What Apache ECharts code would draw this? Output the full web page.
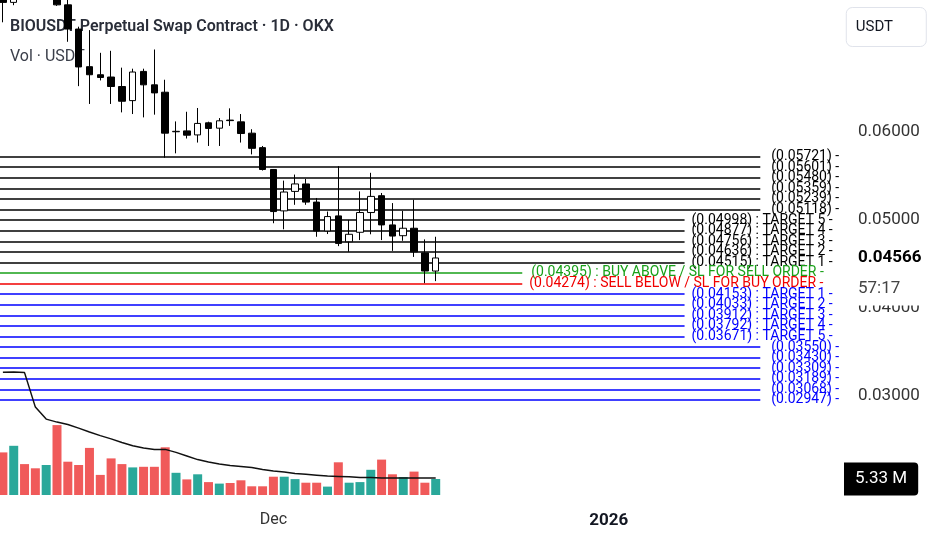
<!DOCTYPE html>
<html><head><meta charset="utf-8">
<script src="https://cdn.jsdelivr.net/npm/echarts@6.0.0/dist/echarts.min.js"></script>
<style>html,body{margin:0;padding:0;background:#fff}#c{width:932px;height:550px}</style>
</head><body><div id="c"></div>
<script>
// ---------- data ----------
const opens  = [0.0785,0.0748,0.0785,0.0770,0.0762,0.0775,0.07452,0.07176,0.06747,0.06655,0.06629,0.06521,0.0636,0.06693,0.0654,0.06456,0.06005,0.06015,0.05969,0.06107,0.06046,0.06138,0.06118,0.05989,0.05824,0.05575,0.05103,0.05325,0.0541,0.05203,0.04874,0.05046,0.04751,0.04859,0.05084,0.05276,0.04943,0.0482,0.04905,0.04624,0.04417];
const highs  = [0.0795,0.0800,0.0810,0.0790,0.0785,0.0785,0.0760,0.07203,0.07164,0.06905,0.06928,0.06736,0.06724,0.06724,0.06943,0.06598,0.06123,0.06233,0.06276,0.0612,0.06161,0.06272,0.06207,0.06034,0.05843,0.0558,0.05448,0.05517,0.05468,0.0525,0.05095,0.05613,0.0500,0.05325,0.05537,0.05307,0.05192,0.05103,0.0523,0.04778,0.04808];
const lows   = [0.07253,0.07448,0.0765,0.0758,0.0756,0.0744,0.07031,0.06525,0.06322,0.0659,0.06322,0.06226,0.06207,0.06169,0.062,0.05709,0.05759,0.05928,0.05882,0.05843,0.05843,0.06072,0.05882,0.05747,0.05563,0.04962,0.04893,0.05172,0.05172,0.04808,0.04839,0.04701,0.04636,0.0477,0.04836,0.0477,0.04647,0.04762,0.04578,0.04279,0.04302];
const closes = [0.0748,0.0785,0.0770,0.0762,0.0775,0.07452,0.07176,0.06744,0.06655,0.06624,0.06521,0.06353,0.06686,0.0654,0.06448,0.05989,0.0601,0.05966,0.061,0.06043,0.0613,0.06132,0.05985,0.05816,0.05575,0.05095,0.05318,0.0541,0.05203,0.04874,0.05038,0.04732,0.04836,0.05084,0.05268,0.04943,0.04816,0.04905,0.04636,0.04417,0.04566];
// volume in millions USDT
const volumes  = [14.2,16.4,10.3,8.9,10.0,23.3,11.1,10.0,15.7,6.7,12.2,10.3,9.2,9.4,9.4,15.9,7.4,5.2,6.9,4.3,3.8,4.0,4.9,2.9,2.9,6.1,6.1,5.3,4.1,4.1,2.8,10.9,4.1,4.3,8.4,11.8,6.9,6.0,7.8,4.1,5.33];
const volumeMA = [40.9,41.0,40.8,29.3,25.3,24.3,23.5,22.3,21.0,19.8,18.7,17.5,16.4,15.7,15.2,15.2,14.2,13.0,11.8,11.0,10.3,9.8,9.5,9.2,8.5,8.0,7.7,7.2,6.9,6.6,6.3,6.2,6.1,5.8,5.8,5.7,5.7,5.7,5.7,5.7,5.7];
const xTickIndex  = [25, 56];
const xTickLabels = ['Dec', '2026'];
const priceTicks  = [0.03, 0.04, 0.05, 0.06];
const upperLevels = [0.05721,0.05601,0.05480,0.05359,0.05239,0.05118];
const sellTargets = [0.04998,0.04877,0.04756,0.04636,0.04515];
const sellTargetNames = ['TARGET 5','TARGET 4','TARGET 3','TARGET 2','TARGET 1'];
const buyAbove  = 0.04395;
const sellBelow = 0.04274;
const buyTargets = [0.04153,0.04033,0.03912,0.03792,0.03671];
const buyTargetNames = ['TARGET 1','TARGET 2','TARGET 3','TARGET 4','TARGET 5'];
const lowerLevels = [0.03550,0.03430,0.03309,0.03189,0.03068,0.02947];
const countdown = '57:17';

// ---------- layout / style ----------
const W = 932, H = 550;
const GRID_RIGHT_X = 845, GRID_BOTTOM_Y = 500;
const X0 = 2.9, STEP = 10.82;
const xMin = (0 - X0) / STEP, xMax = (GRID_RIGHT_X - X0) / STEP;
const REF_P = 0.06, REF_PX = 132.2, PX_PER_P = 8771;
const yMax = REF_P + REF_PX / PX_PER_P;
const yMin = REF_P - (GRID_BOTTOM_Y - REF_PX) / PX_PER_P;
const VOL_BASE_PX = 495, PX_PER_M = 3;
const volMin = -(GRID_BOTTOM_Y - VOL_BASE_PX) / PX_PER_M;
const volMax = volMin + GRID_BOTTOM_Y / PX_PER_M;
const LAST = closes.length - 1;
const END_LEVEL = LAST + 30, END_TARGET = LAST + 23, END_SIGNAL = LAST + 8;
const BLACK = '#000000', BLUE = '#0000ff', GREEN = '#18a018', RED = '#f00000';
const UPVOL = '#2aa89a', DOWNVOL = '#f05a5a';

const fmt = v => '(' + v.toFixed(5) + ')';
function seg(v, text, color, endIdx, dist) {
  return [
    {coord: [xMin, v], lineStyle: {color: color, width: 1.5, type: 'solid'},
     label: {show: true, position: 'end', distance: dist, formatter: text, color: color, fontSize: 14, fontFamily: 'Roboto'}},
    {coord: [endIdx, v]}
  ];
}
const levelLines = [];
upperLevels.forEach(v => levelLines.push(seg(v, fmt(v) + ' -', BLACK, END_LEVEL, 11)));
sellTargets.forEach((v, k) => levelLines.push(seg(v, fmt(v) + ' : ' + sellTargetNames[k] + ' -', BLACK, END_TARGET, 7)));
levelLines.push(seg(buyAbove, fmt(buyAbove) + ' : BUY ABOVE / SL FOR SELL ORDER -', GREEN, END_SIGNAL, 9));
levelLines.push(seg(sellBelow, fmt(sellBelow) + ' : SELL BELOW / SL FOR BUY ORDER -', RED, END_SIGNAL, 7));
buyTargets.forEach((v, k) => levelLines.push(seg(v, fmt(v) + ' : ' + buyTargetNames[k] + ' -', BLUE, END_TARGET, 7)));
lowerLevels.forEach(v => levelLines.push(seg(v, fmt(v) + ' -', BLUE, END_LEVEL, 11)));

const candleData = opens.map((o, i) => [i, o, closes[i], lows[i], highs[i]]);
const volData = volumes.map((v, i) => ({value: [i, v], itemStyle: {color: closes[i] >= opens[i] ? UPVOL : DOWNVOL}}));
const maData = volumeMA.map((v, i) => [i, v]);

const chart = echarts.init(document.getElementById('c'), null, {renderer: 'canvas', width: W, height: H});
chart.setOption({
  animation: false,
  backgroundColor: '#ffffff',
  textStyle: {fontFamily: 'Roboto'},
  title: [
    {text: 'BIOUSDT Perpetual Swap Contract · 1D · OKX', subtext: 'Vol · USDT',
     left: 10, top: 17, padding: 0, itemGap: 10, z: 1,
     textStyle: {fontSize: 16, fontWeight: 600, color: '#2a2e39', lineHeight: 20, fontFamily: 'Roboto'},
     subtextStyle: {fontSize: 16, color: '#3a3e49', lineHeight: 20, fontFamily: 'Roboto'}},
    {text: 'USDT', right: 5, top: 7, padding: [13, 34, 12, 10],
     borderColor: '#e0e3eb', borderWidth: 1, borderRadius: 6,
     textStyle: {fontSize: 15, fontWeight: 'normal', color: '#131722', fontFamily: 'Roboto'}}
  ],
  grid: {left: 0, right: W - GRID_RIGHT_X, top: 0, bottom: H - GRID_BOTTOM_Y},
  xAxis: {
    type: 'value', min: xMin, max: xMax,
    axisLine: {show: false}, axisTick: {show: false}, splitLine: {show: false},
    axisLabel: {
      customValues: xTickIndex, margin: 12, fontSize: 16, color: '#333',
      formatter: function (v) {
        const k = xTickIndex.indexOf(Math.round(v));
        if (k < 0) return '';
        const t = xTickLabels[k];
        return /^\d{4}$/.test(t) ? '{y|' + t + '}' : t;
      },
      rich: {y: {fontWeight: 'bold', fontSize: 17, color: '#131722'}}
    }
  },
  yAxis: [
    {type: 'value', position: 'right', min: yMin, max: yMax,
     axisLine: {show: false}, axisTick: {show: false}, splitLine: {show: false},
     axisLabel: {customValues: priceTicks, margin: 13, fontSize: 17, color: '#333',
                 formatter: v => v.toFixed(5)}},
    {type: 'value', min: volMin, max: volMax, show: false, splitLine: {show: false}}
  ],
  series: [
    {name: 'levels', type: 'line', data: [], z: 1, silent: true,
     markLine: {silent: true, z: 1, symbol: ['none', 'none'], animation: false, data: levelLines}},
    {name: 'volume', type: 'bar', xAxisIndex: 0, yAxisIndex: 1, data: volData, barWidth: 9, z: 2, silent: true},
    {name: 'volMA', type: 'line', xAxisIndex: 0, yAxisIndex: 1, data: maData, showSymbol: false, symbol: 'none',
     lineStyle: {color: '#111', width: 1.5}, z: 3, silent: true},
    {name: 'price', type: 'candlestick', xAxisIndex: 0, yAxisIndex: 0, data: candleData,
     encode: {x: 0, y: [1, 2, 3, 4]}, barWidth: 7, z: 4, clip: true, silent: true,
     itemStyle: {color: '#ffffff', color0: '#000000', borderColor: '#000000', borderColor0: '#000000', borderWidth: 1}},
    {name: 'priceLabel', type: 'line', xAxisIndex: 0, yAxisIndex: 0, data: [], z: 10, silent: true,
     markLine: {silent: true, z: 10, symbol: ['none', 'none'], animation: false,
       data: [[
         {coord: [xMax - 0.01, closes[LAST]], lineStyle: {color: 'rgba(255,255,255,0)', width: 1, opacity: 1},
          label: {show: true, position: 'end', distance: 0, opacity: 1,
           formatter: '{e| }\n{a|' + closes[LAST].toFixed(5) + '}\n{b|' + countdown + '}',
           rich: {
             e: {height: 33, lineHeight: 33, fontSize: 17},
             a: {fontSize: 17, fontWeight: 'bold', color: '#000', backgroundColor: '#fff', width: 74, height: 29, lineHeight: 29, padding: [0, 0, 0, 13]},
             b: {fontSize: 17, color: '#444', backgroundColor: '#fff', width: 74, height: 33, lineHeight: 33, padding: [0, 0, 0, 13]}
           }}},
         {coord: [xMax, closes[LAST]]}
       ]]}},
    {name: 'volLabel', type: 'line', xAxisIndex: 0, yAxisIndex: 1, data: [], z: 10, silent: true,
     markLine: {silent: true, z: 10, symbol: ['none', 'none'], animation: false,
       data: [[
         {coord: [xMax - 0.01, volumes[LAST]], lineStyle: {color: 'rgba(255,255,255,0)', width: 1, opacity: 1},
          label: {show: true, position: 'end', distance: -1, opacity: 1,
           formatter: volumes[LAST].toFixed(2) + ' M',
           color: '#fff', backgroundColor: '#000', fontSize: 17, lineHeight: 20,
           padding: [7, 11, 6, 11], borderRadius: [0, 4, 4, 0]}},
         {coord: [xMax, volumes[LAST]]}
       ]]}}
  ]
});
</script></body></html>
